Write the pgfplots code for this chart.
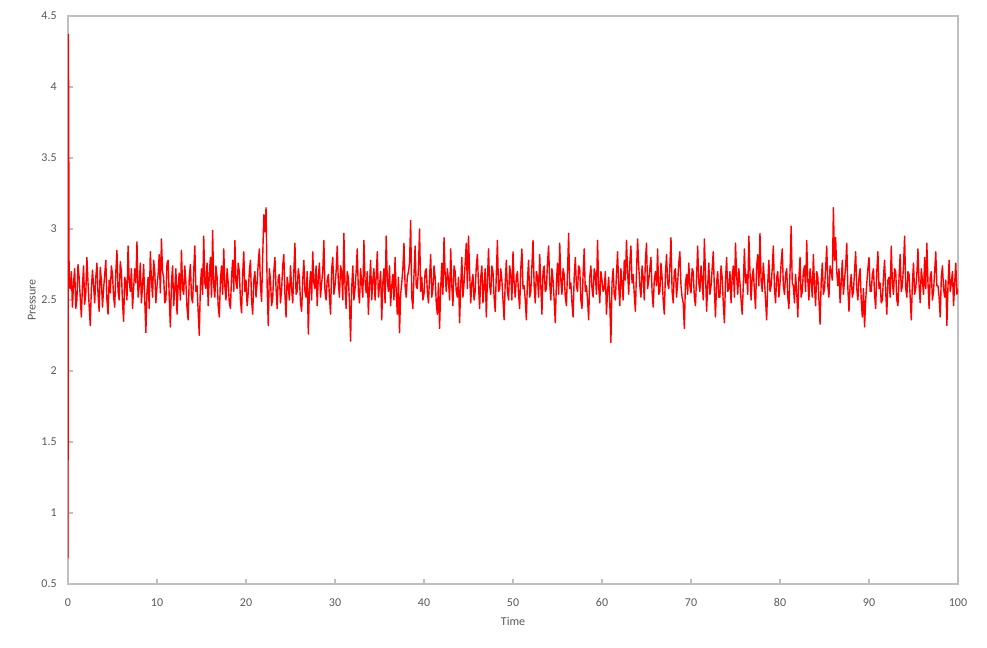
\documentclass[border=0pt]{standalone}
\usepackage{pgfplots}
\pgfplotsset{compat=1.18}
\usepackage{fontspec}
\setmainfont{Carlito}
\definecolor{txt}{RGB}{89,89,89}
\definecolor{axl}{RGB}{191,191,191}
\begin{document}
\begin{tikzpicture}
\useasboundingbox (-51pt,-48pt) rectangle (689.25pt,438pt);
\begin{axis}[name=ax, at={(0,0)}, anchor=south west,
  scale only axis, width=667.5pt, height=426pt,
  xmin=0, xmax=100, ymin=0.5, ymax=4.5,
  xtick={0,10,...,100}, ytick={0.5,1,...,4.5},
  axis line style={axl, line width=0.8pt},
  tick style={axl, line width=0.8pt}, tick align=inside,
  major tick length=4pt,
  xtick pos=bottom, ytick pos=left,
  tick label style={font=\fontsize{9}{11}\selectfont, text=txt},
  /pgf/number format/assume math mode=true,
  xticklabel style={yshift=-6pt, text height=1.5ex, text depth=0pt},
  yticklabel style={xshift=-5pt},
  xlabel={Time}, ylabel={Pressure},
  label style={font=\fontsize{9}{11}\selectfont, text=txt},
  xlabel style={yshift=-1pt},
  ylabel style={yshift=-2.5pt},
  clip=true]
\addplot[red, line width=1.05pt, line join=round] coordinates {
(0,0.68) (0.03,4.37) (0.07,3.97) (0.125,2.60)
(0.25,2.58) (0.375,2.70) (0.5,2.45) (0.625,2.62) (0.75,2.72) (0.875,2.44) (1,2.50) (1.125,2.75)
(1.25,2.66) (1.375,2.52) (1.5,2.38) (1.625,2.60) (1.75,2.74) (1.875,2.47) (2,2.55) (2.125,2.80)
(2.25,2.62) (2.375,2.46) (2.5,2.32) (2.625,2.58) (2.75,2.71) (2.875,2.60) (3,2.48) (3.125,2.66)
(3.25,2.76) (3.375,2.54) (3.5,2.42) (3.625,2.73) (3.75,2.64) (3.875,2.45) (4,2.58) (4.125,2.68)
(4.25,2.78) (4.375,2.50) (4.5,2.40) (4.625,2.64) (4.75,2.55) (4.875,2.74) (5,2.68) (5.125,2.52)
(5.25,2.45) (5.375,2.70) (5.5,2.85) (5.625,2.56) (5.75,2.50) (5.875,2.77) (6,2.70) (6.125,2.48)
(6.25,2.35) (6.375,2.66) (6.5,2.62) (6.625,2.50) (6.75,2.88) (6.875,2.64) (7,2.56) (7.125,2.72)
(7.25,2.44) (7.375,2.58) (7.5,2.72) (7.625,2.62) (7.75,2.91) (7.875,2.52) (8,2.60) (8.125,2.76)
(8.25,2.48) (8.375,2.60) (8.5,2.75) (8.625,2.50) (8.75,2.27) (8.875,2.56) (9,2.66) (9.125,2.44)
(9.25,2.84) (9.375,2.64) (9.5,2.52) (9.625,2.78) (9.75,2.70) (9.875,2.48) (10,2.60) (10.125,2.68)
(10.25,2.82) (10.375,2.55) (10.5,2.93) (10.625,2.70) (10.75,2.66) (10.875,2.48) (11,2.50) (11.125,2.76)
(11.25,2.78) (11.375,2.52) (11.5,2.31) (11.625,2.62) (11.75,2.74) (11.875,2.46) (12,2.58) (12.125,2.72)
(12.25,2.40) (12.375,2.60) (12.5,2.69) (12.625,2.50) (12.75,2.85) (12.875,2.58) (13,2.54) (13.125,2.74)
(13.25,2.62) (13.375,2.44) (13.5,2.36) (13.625,2.66) (13.75,2.75) (13.875,2.52) (14,2.48) (14.125,2.70)
(14.25,2.88) (14.375,2.56) (14.5,2.60) (14.625,2.42) (14.75,2.25) (14.875,2.60) (15,2.72) (15.125,2.54)
(15.25,2.95) (15.375,2.62) (15.5,2.58) (15.625,2.76) (15.75,2.46) (15.875,2.68) (16,2.80) (16.125,2.52)
(16.25,2.99) (16.375,2.60) (16.5,2.52) (16.625,2.74) (16.75,2.66) (16.875,2.46) (17,2.38) (17.125,2.64)
(17.25,2.74) (17.375,2.54) (17.5,2.86) (17.625,2.60) (17.75,2.50) (17.875,2.72) (18,2.62) (18.125,2.48)
(18.25,2.44) (18.375,2.66) (18.5,2.78) (18.625,2.56) (18.75,2.92) (18.875,2.62) (19,2.58) (19.125,2.76)
(19.25,2.70) (19.375,2.50) (19.5,2.41) (19.625,2.68) (19.75,2.84) (19.875,2.56) (20,2.64) (20.125,2.46)
(20.25,2.55) (20.375,2.70) (20.5,2.78) (20.625,2.50) (20.75,2.40) (20.875,2.64) (21,2.70) (21.125,2.52)
(21.25,2.62) (21.375,2.76) (21.5,2.86) (21.625,2.60) (21.75,2.49) (21.875,2.80) (22,3.10) (22.125,2.98)
(22.25,3.15) (22.375,2.60) (22.5,2.32) (22.625,2.72) (22.75,2.64) (22.875,2.46) (23,2.51) (23.125,2.70)
(23.25,2.80) (23.375,2.58) (23.5,2.44) (23.625,2.66) (23.75,2.68) (23.875,2.48) (24,2.57) (24.125,2.74)
(24.25,2.82) (24.375,2.54) (24.5,2.38) (24.625,2.66) (24.75,2.60) (24.875,2.50) (25,2.74) (25.125,2.58)
(25.25,2.48) (25.375,2.70) (25.5,2.90) (25.625,2.54) (25.75,2.56) (25.875,2.72) (26,2.66) (26.125,2.48)
(26.25,2.42) (26.375,2.64) (26.5,2.78) (26.625,2.56) (26.75,2.52) (26.875,2.70) (27,2.26) (27.125,2.58)
(27.25,2.70) (27.375,2.50) (27.5,2.84) (27.625,2.62) (27.75,2.58) (27.875,2.74) (28,2.46) (28.125,2.66)
(28.25,2.76) (28.375,2.52) (28.5,2.62) (28.625,2.70) (28.75,2.92) (28.875,2.56) (29,2.50) (29.125,2.64)
(29.25,2.68) (29.375,2.52) (29.5,2.40) (29.625,2.72) (29.75,2.80) (29.875,2.54) (30,2.60) (30.125,2.70)
(30.25,2.88) (30.375,2.62) (30.5,2.52) (30.625,2.74) (30.75,2.70) (30.875,2.50) (31,2.97) (31.125,2.60)
(31.25,2.44) (31.375,2.70) (31.5,2.66) (31.625,2.48) (31.75,2.21) (31.875,2.58) (32,2.74) (32.125,2.50)
(32.25,2.58) (32.375,2.70) (32.5,2.86) (32.625,2.56) (32.75,2.48) (32.875,2.72) (33,2.62) (33.125,2.52)
(33.25,2.92) (33.375,2.64) (33.5,2.55) (33.625,2.70) (33.75,2.40) (33.875,2.60) (34,2.78) (34.125,2.50)
(34.25,2.64) (34.375,2.72) (34.5,2.50) (34.625,2.66) (34.75,2.84) (34.875,2.52) (35,2.60) (35.125,2.70)
(35.25,2.36) (35.375,2.62) (35.5,2.72) (35.625,2.48) (35.75,2.95) (35.875,2.64) (36,2.56) (36.125,2.74)
(36.25,2.46) (36.375,2.60) (36.5,2.68) (36.625,2.50) (36.75,2.80) (36.875,2.56) (37,2.40) (37.125,2.66)
(37.25,2.27) (37.375,2.54) (37.5,2.62) (37.625,2.72) (37.75,2.90) (37.875,2.60) (38,2.52) (38.125,2.66)
(38.25,2.70) (38.375,2.76) (38.5,3.06) (38.625,2.52) (38.75,2.44) (38.875,2.68) (39,2.88) (39.125,2.60)
(39.25,2.58) (39.375,2.72) (39.5,3.00) (39.625,2.56) (39.75,2.66) (39.875,2.50) (40,2.54) (40.125,2.70)
(40.25,2.72) (40.375,2.56) (40.5,2.48) (40.625,2.66) (40.75,2.82) (40.875,2.52) (41,2.58) (41.125,2.74)
(41.25,2.66) (41.375,2.48) (41.5,2.40) (41.625,2.62) (41.75,2.30) (41.875,2.58) (42,2.76) (42.125,2.54)
(42.25,2.94) (42.375,2.68) (42.5,2.56) (42.625,2.72) (42.75,2.64) (42.875,2.50) (43,2.86) (43.125,2.60)
(43.25,2.46) (43.375,2.74) (43.5,2.70) (43.625,2.56) (43.75,2.52) (43.875,2.66) (44,2.34) (44.125,2.60)
(44.25,2.80) (44.375,2.52) (44.5,2.62) (44.625,2.76) (44.75,2.90) (44.875,2.58) (45,2.95) (45.125,2.70)
(45.25,2.48) (45.375,2.62) (45.5,2.68) (45.625,2.50) (45.75,2.56) (45.875,2.74) (46,2.82) (46.125,2.60)
(46.25,2.44) (46.375,2.66) (46.5,2.74) (46.625,2.48) (46.75,2.60) (46.875,2.72) (47,2.38) (47.125,2.64)
(47.25,2.86) (47.375,2.60) (47.5,2.54) (47.625,2.74) (47.75,2.70) (47.875,2.52) (48,2.42) (48.125,2.68)
(48.25,2.92) (48.375,2.56) (48.5,2.58) (48.625,2.72) (48.75,2.64) (48.875,2.50) (49,2.36) (49.125,2.62)
(49.25,2.78) (49.375,2.56) (49.5,2.50) (49.625,2.74) (49.75,2.68) (49.875,2.50) (50,2.84) (50.125,2.62)
(50.25,2.52) (50.375,2.66) (50.5,2.70) (50.625,2.54) (50.75,2.44) (50.875,2.72) (51,2.86) (51.125,2.58)
(51.25,2.60) (51.375,2.50) (51.5,2.36) (51.625,2.64) (51.75,2.78) (51.875,2.52) (52,2.56) (52.125,2.74)
(52.25,2.92) (52.375,2.60) (52.5,2.48) (52.625,2.70) (52.75,2.66) (52.875,2.52) (53,2.82) (53.125,2.60)
(53.25,2.40) (53.375,2.70) (53.5,2.74) (53.625,2.56) (53.75,2.58) (53.875,2.76) (54,2.88) (54.125,2.62)
(54.25,2.50) (54.375,2.72) (54.5,2.64) (54.625,2.50) (54.75,2.34) (54.875,2.62) (55,2.76) (55.125,2.54)
(55.25,2.90) (55.375,2.64) (55.5,2.54) (55.625,2.72) (55.75,2.68) (55.875,2.52) (56,2.46) (56.125,2.70)
(56.25,2.97) (56.375,2.58) (56.5,2.62) (56.625,2.48) (56.75,2.38) (56.875,2.66) (57,2.80) (57.125,2.60)
(57.25,2.56) (57.375,2.74) (57.5,2.72) (57.625,2.50) (57.75,2.44) (57.875,2.68) (58,2.86) (58.125,2.56)
(58.25,2.60) (58.375,2.50) (58.5,2.36) (58.625,2.66) (58.75,2.74) (58.875,2.58) (59,2.52) (59.125,2.72)
(59.25,2.68) (59.375,2.54) (59.5,2.92) (59.625,2.60) (59.75,2.48) (59.875,2.70) (60,2.64) (60.125,2.56)
(60.25,2.58) (60.375,2.70) (60.5,2.40) (60.625,2.56) (60.75,2.66) (60.875,2.48) (61,2.20) (61.125,2.62)
(61.25,2.72) (61.375,2.54) (61.5,2.50) (61.625,2.68) (61.75,2.84) (61.875,2.60) (62,2.46) (62.125,2.72)
(62.25,2.62) (62.375,2.50) (62.5,2.78) (62.625,2.64) (62.75,2.92) (62.875,2.70) (63,2.54) (63.125,2.76)
(63.25,2.88) (63.375,2.62) (63.5,2.68) (63.625,2.54) (63.75,2.42) (63.875,2.70) (64,2.93) (64.125,2.74)
(64.25,2.60) (64.375,2.52) (64.5,2.74) (64.625,2.66) (64.75,2.50) (64.875,2.78) (65,2.90) (65.125,2.58)
(65.25,2.64) (65.375,2.72) (65.5,2.80) (65.625,2.56) (65.75,2.45) (65.875,2.64) (66,2.70) (66.125,2.60)
(66.25,2.86) (66.375,2.54) (66.5,2.56) (66.625,2.76) (66.75,2.66) (66.875,2.50) (67,2.40) (67.125,2.68)
(67.25,2.82) (67.375,2.62) (67.5,2.58) (67.625,2.74) (67.75,2.94) (67.875,2.56) (68,2.48) (68.125,2.70)
(68.25,2.72) (68.375,2.52) (68.5,2.62) (68.625,2.76) (68.75,2.84) (68.875,2.60) (69,2.52) (69.125,2.48)
(69.25,2.30) (69.375,2.62) (69.5,2.68) (69.625,2.54) (69.75,2.76) (69.875,2.60) (70,2.55) (70.125,2.72)
(70.25,2.70) (70.375,2.52) (70.5,2.46) (70.625,2.66) (70.75,2.88) (70.875,2.62) (71,2.56) (71.125,2.74)
(71.25,2.64) (71.375,2.50) (71.5,2.93) (71.625,2.70) (71.75,2.42) (71.875,2.60) (72,2.76) (72.125,2.54)
(72.25,2.60) (72.375,2.72) (72.5,2.84) (72.625,2.58) (72.75,2.38) (72.875,2.62) (73,2.70) (73.125,2.52)
(73.25,2.52) (73.375,2.74) (73.5,2.66) (73.625,2.48) (73.75,2.34) (73.875,2.64) (74,2.80) (74.125,2.56)
(74.25,2.58) (74.375,2.70) (74.5,2.48) (74.625,2.66) (74.75,2.74) (74.875,2.52) (75,2.90) (75.125,2.68)
(75.25,2.54) (75.375,2.72) (75.5,2.62) (75.625,2.50) (75.75,2.40) (75.875,2.60) (76,2.86) (76.125,2.62)
(76.25,2.68) (76.375,2.54) (76.5,2.95) (76.625,2.70) (76.75,2.50) (76.875,2.66) (77,2.72) (77.125,2.56)
(77.25,2.44) (77.375,2.74) (77.5,2.82) (77.625,2.60) (77.75,2.97) (77.875,2.64) (78,2.56) (78.125,2.76)
(78.25,2.64) (78.375,2.50) (78.5,2.36) (78.625,2.62) (78.75,2.78) (78.875,2.56) (79,2.60) (79.125,2.72)
(79.25,2.88) (79.375,2.58) (79.5,2.48) (79.625,2.66) (79.75,2.70) (79.875,2.52) (80,2.62) (80.125,2.76)
(80.25,2.86) (80.375,2.60) (80.5,2.54) (80.625,2.68) (80.75,2.72) (80.875,2.52) (81,2.44) (81.125,2.70)
(81.25,3.02) (81.375,2.62) (81.5,2.60) (81.625,2.48) (81.75,2.68) (81.875,2.56) (82,2.38) (82.125,2.66)
(82.25,2.80) (82.375,2.52) (82.5,2.56) (82.625,2.70) (82.75,2.74) (82.875,2.56) (83,2.92) (83.125,2.64)
(83.25,2.50) (83.375,2.72) (83.5,2.64) (83.625,2.52) (83.75,2.82) (83.875,2.60) (84,2.46) (84.125,2.70)
(84.25,2.66) (84.375,2.50) (84.5,2.33) (84.625,2.62) (84.75,2.76) (84.875,2.54) (85,2.58) (85.125,2.72)
(85.25,2.88) (85.375,2.60) (85.5,2.52) (85.625,2.74) (85.75,2.70) (85.875,2.64) (86,3.15) (86.125,2.78)
(86.25,2.94) (86.375,2.70) (86.5,2.60) (86.625,2.72) (86.75,2.48) (86.875,2.62) (87,2.78) (87.125,2.54)
(87.25,2.64) (87.375,2.74) (87.5,2.90) (87.625,2.58) (87.75,2.42) (87.875,2.60) (88,2.68) (88.125,2.52)
(88.25,2.56) (88.375,2.70) (88.5,2.84) (88.625,2.58) (88.75,2.50) (88.875,2.66) (89,2.72) (89.125,2.50)
(89.25,2.38) (89.375,2.58) (89.5,2.31) (89.625,2.50) (89.75,2.62) (89.875,2.72) (90,2.80) (90.125,2.56)
(90.25,2.56) (90.375,2.68) (90.5,2.72) (90.625,2.54) (90.75,2.44) (90.875,2.70) (91,2.84) (91.125,2.58)
(91.25,2.62) (91.375,2.48) (91.5,2.50) (91.625,2.66) (91.75,2.78) (91.875,2.56) (92,2.40) (92.125,2.64)
(92.25,2.66) (92.375,2.52) (92.5,2.88) (92.625,2.62) (92.75,2.54) (92.875,2.72) (93,2.70) (93.125,2.50)
(93.25,2.46) (93.375,2.66) (93.5,2.82) (93.625,2.56) (93.75,2.60) (93.875,2.74) (94,2.95) (94.125,2.58)
(94.25,2.52) (94.375,2.70) (94.5,2.68) (94.625,2.52) (94.75,2.36) (94.875,2.62) (95,2.76) (95.125,2.54)
(95.25,2.58) (95.375,2.68) (95.5,2.86) (95.625,2.60) (95.75,2.48) (95.875,2.72) (96,2.64) (96.125,2.54)
(96.25,2.80) (96.375,2.58) (96.5,2.90) (96.625,2.62) (96.75,2.44) (96.875,2.66) (97,2.70) (97.125,2.50)
(97.25,2.56) (97.375,2.70) (97.5,2.84) (97.625,2.60) (97.75,2.60) (97.875,2.52) (98,2.38) (98.125,2.66)
(98.25,2.74) (98.375,2.58) (98.5,2.52) (98.625,2.64) (98.75,2.32) (98.875,2.60) (99,2.78) (99.125,2.56)
(99.25,2.62) (99.375,2.70) (99.5,2.46) (99.625,2.62) (99.75,2.76) (99.875,2.54) (100,2.58)
};
\end{axis}
\end{tikzpicture}
\end{document}
